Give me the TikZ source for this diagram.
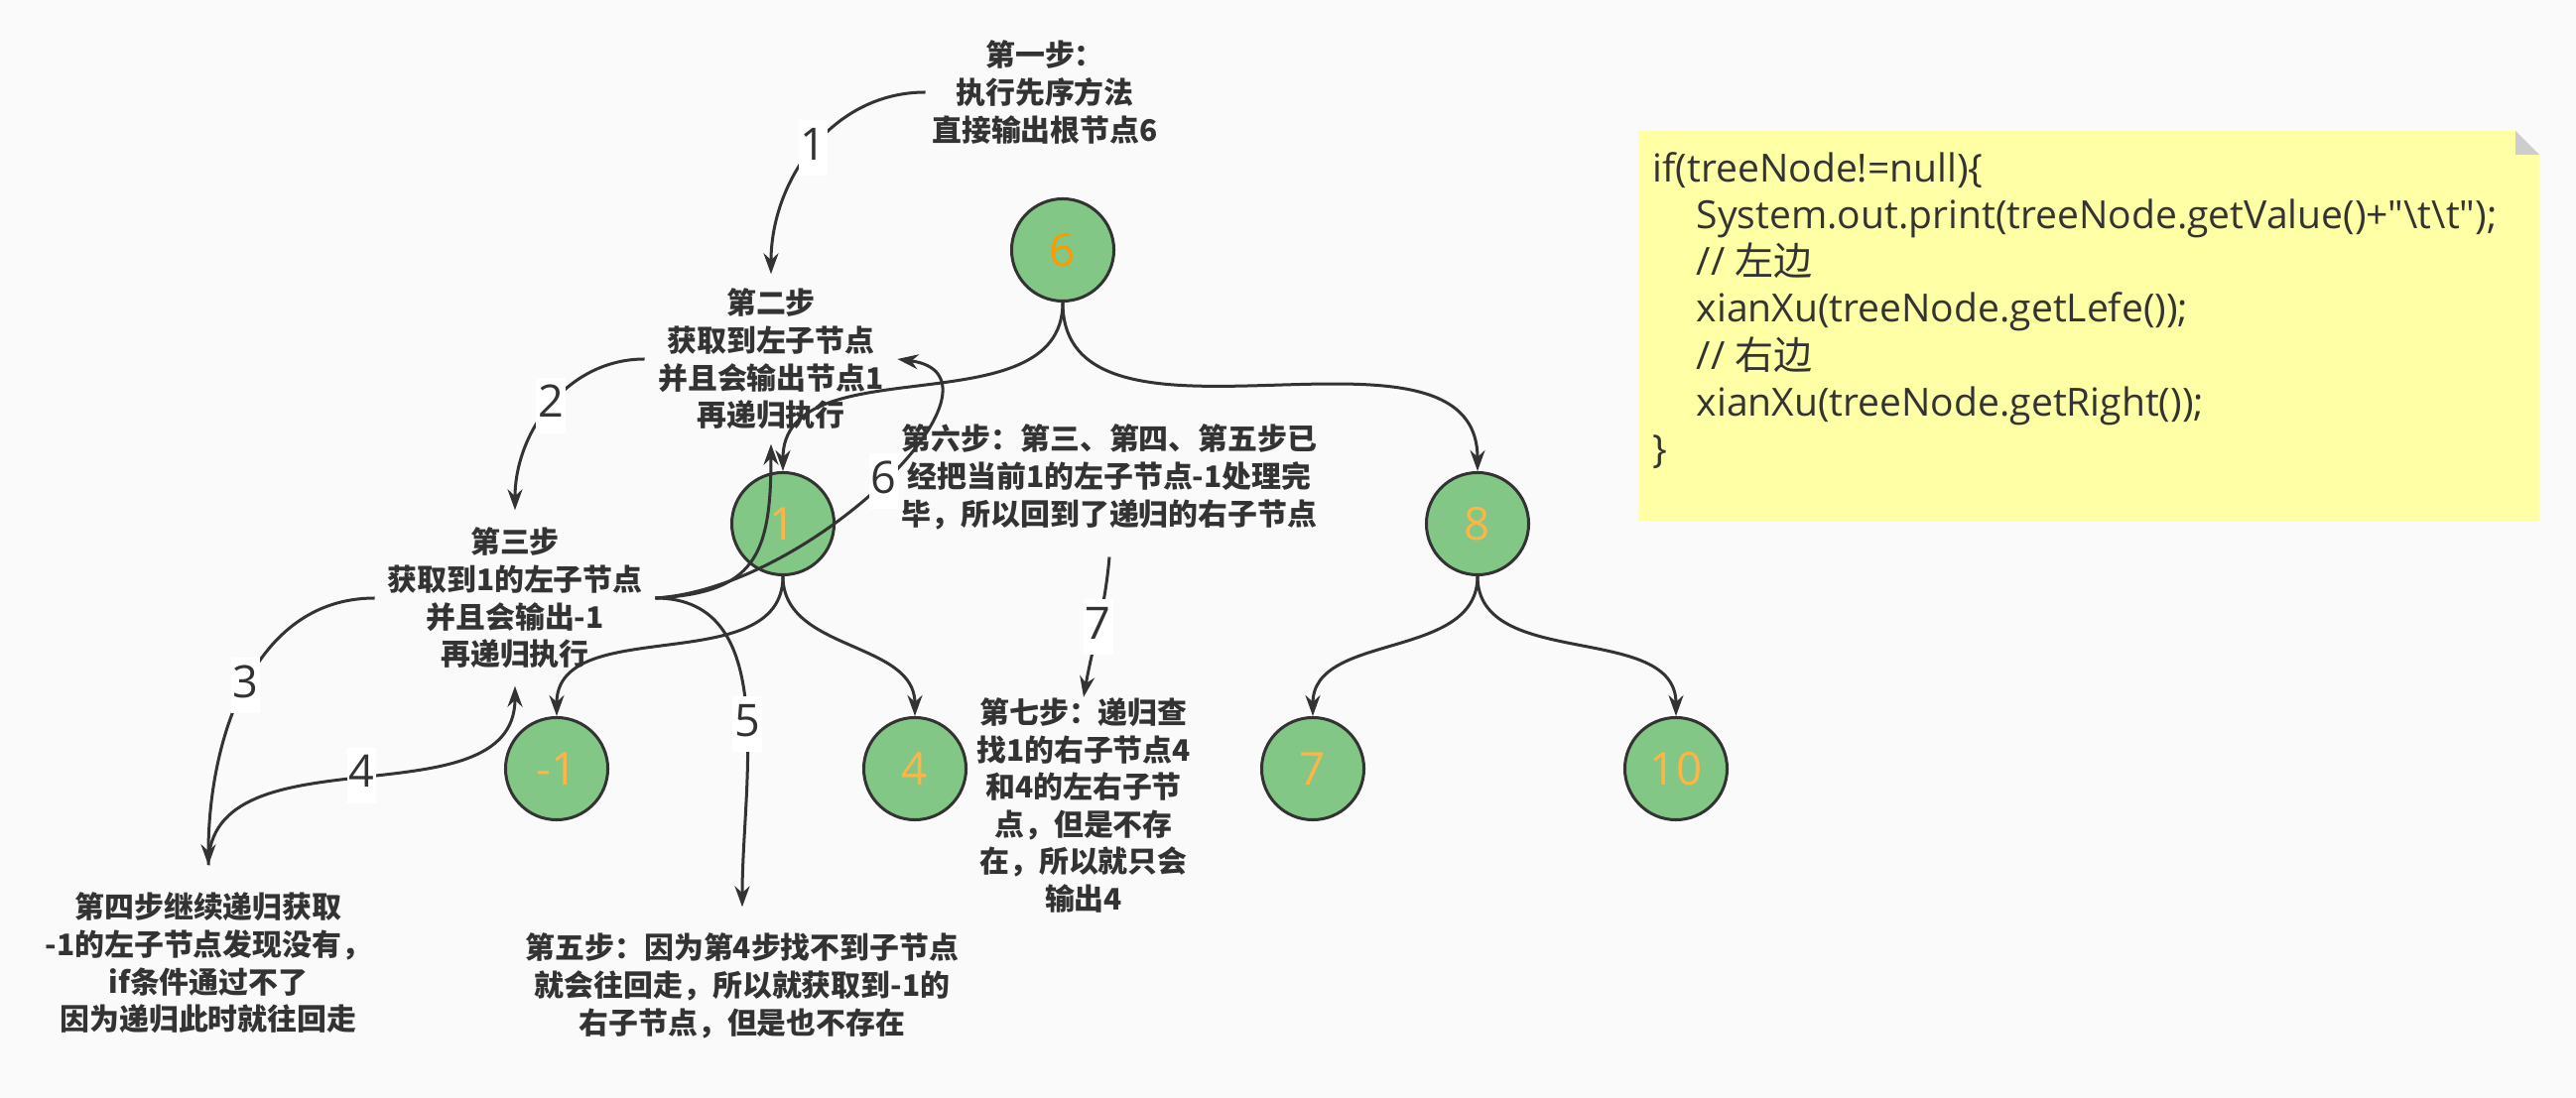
\documentclass[tikz,border=0pt]{standalone}
\usepackage{fontspec}
\setmainfont{Noto Sans CJK SC}
\newfontfamily\latinfont{Open Sans}
\newfontfamily\cjkfont{Noto Sans CJK SC}
\usetikzlibrary{arrows.meta}
\definecolor{paper}{HTML}{FAFAFA}
\definecolor{ink}{HTML}{333333}
\definecolor{leaf}{HTML}{82C785}
\definecolor{rootnum}{HTML}{FF9900}
\definecolor{keynum}{HTML}{FFB444}
\definecolor{memo}{HTML}{FFFFA6}
\definecolor{fold}{HTML}{CDCDCD}

\begin{document}
\begin{tikzpicture}[x=0.01cm,y=-0.01cm]
    \tikzstyle{every node}=[text=ink]
    \tikzstyle{tnode}=[circle,draw=ink,line width=0.03cm,fill=leaf,minimum size=1.03cm,inner sep=0pt,
      font=\latinfont\fontsize{13pt}{14pt}\selectfont,text=keynum]
    \tikzstyle{stepnote}=[align=center,inner sep=0.06cm,font=\bfseries\fontsize{8.5pt}{10.7pt}\selectfont]
    \tikzstyle{num}=[fill=white,inner xsep=0.02cm,inner ysep=0.06cm,text height=0.34cm,text depth=0.1cm,
      font=\latinfont\fontsize{12.8pt}{14pt}\selectfont]
    \tikzstyle{link}=[draw=ink,line width=0.03cm,-{Stealth[length=0.21cm,width=0.15cm]}]
    \useasboundingbox (0,0) rectangle (2596,1107);
    \fill[paper] (0,0) rectangle (2596,1107);

    % the tree
    \node[tnode,text=rootnum] (n6) at (1071,252) {6};
    \node[tnode] (n1) at (789,528) {1};
    \node[tnode] (n8) at (1489,528) {8};
    \node[tnode] (nm1) at (561,775) {-1};
    \node[tnode] (n4) at (922,775) {4};
    \node[tnode] (n7) at (1323,775) {7};
    \node[tnode] (n10) at (1689,775) {10};
    \foreach \a/\b in {n6/n1,n6/n8,n1/nm1,n1/n4,n8/n7,n8/n10}
      \draw[link] (\a.south) to[out=-90,in=90] (\b.north);

    % the steps
    \node[stepnote] (s1) at (1053,93) {第一步：\\执行先序方法\\直接输出根节点6};
    \node[stepnote,inner xsep=0.13cm,inner ysep=0.14cm] (s2) at (777,362)
      {第二步\\获取到左子节点\\并且会输出节点1\\再递归执行};
    \node[stepnote,inner xsep=0.12cm,inner ysep=0.17cm] (s3) at (519,603)
      {第三步\\获取到1的左子节点\\并且会输出-1\\再递归执行};
    \node[stepnote,inner ysep=0.27cm] (s4) at (210,971)
      {第四步继续递归获取\\-1的左子节点发现没有，\\if条件通过不了\\因为递归此时就往回走};
    \node[stepnote,inner ysep=0.26cm] (s5) at (748,994)
      {第五步：因为第4步找不到子节点\\就会往回走，所以就获取到-1的\\右子节点，但是也不存在};
    \node[stepnote,inner ysep=0.27cm] (s6) at (1118,481)
      {第六步：第三、第四、第五步已\\经把当前1的左子节点-1处理完\\毕，所以回到了递归的右子节点};
    \node[stepnote,inner ysep=0cm] (s7) at (1092,812)
      {第七步：递归查\\找1的右子节点4\\和4的左右子节\\点，但是不存\\在，所以就只会\\输出4};

    % numbered arrows between the steps
    \draw[link] (s1.west) to[out=180,in=90] node[num] {1} (s2.north);
    \draw[link] (s2.west) to[out=180,in=90] node[num] {2} (s3.north);
    \draw[link] (s3.west) to[out=180,in=90] node[num] {3} (s4.north);
    \draw[link] (s4.north) to[out=90,in=-90] node[num] {4} (s3.south);
    \draw[link] (s3.east) to[out=0,in=90] node[num,pos=0.55] {5} (s5.north);
    \draw[link] (s3.east) .. controls +(160,-10) and +(128,17) .. (s2.east) node[num,pos=0.5] {6};
    \draw[link] (s3.east) .. controls +(100,-5) and +(0,113) .. (s2.south);
    \draw[link] (s6.south) to[out=-95,in=80] node[num] {7} (s7.north);

    % the code note
    \fill[memo] (1651,132) -- (2535,132) -- (2559,156) -- (2559,525) -- (1651,525) -- cycle;
    \fill[fold] (2535,132) -- (2559,156) -- (2535,156) -- cycle;
    \node[anchor=north west,align=left,inner sep=0pt,font=\latinfont\fontsize{11.1pt}{13.4pt}\selectfont] (code) at (1665,153)
      {if(treeNode!=null)\{\\
       \hspace*{0.44cm}System.out.print(treeNode.getValue()+\textquotedbl\textbackslash t\textbackslash t\textquotedbl);\\
       \hspace*{0.44cm}// {\cjkfont 左边}\\
       \hspace*{0.44cm}xianXu(treeNode.getLefe());\\
       \hspace*{0.44cm}// {\cjkfont 右边}\\
       \hspace*{0.44cm}xianXu(treeNode.getRight());\\
       \}};
\end{tikzpicture}
\end{document}
